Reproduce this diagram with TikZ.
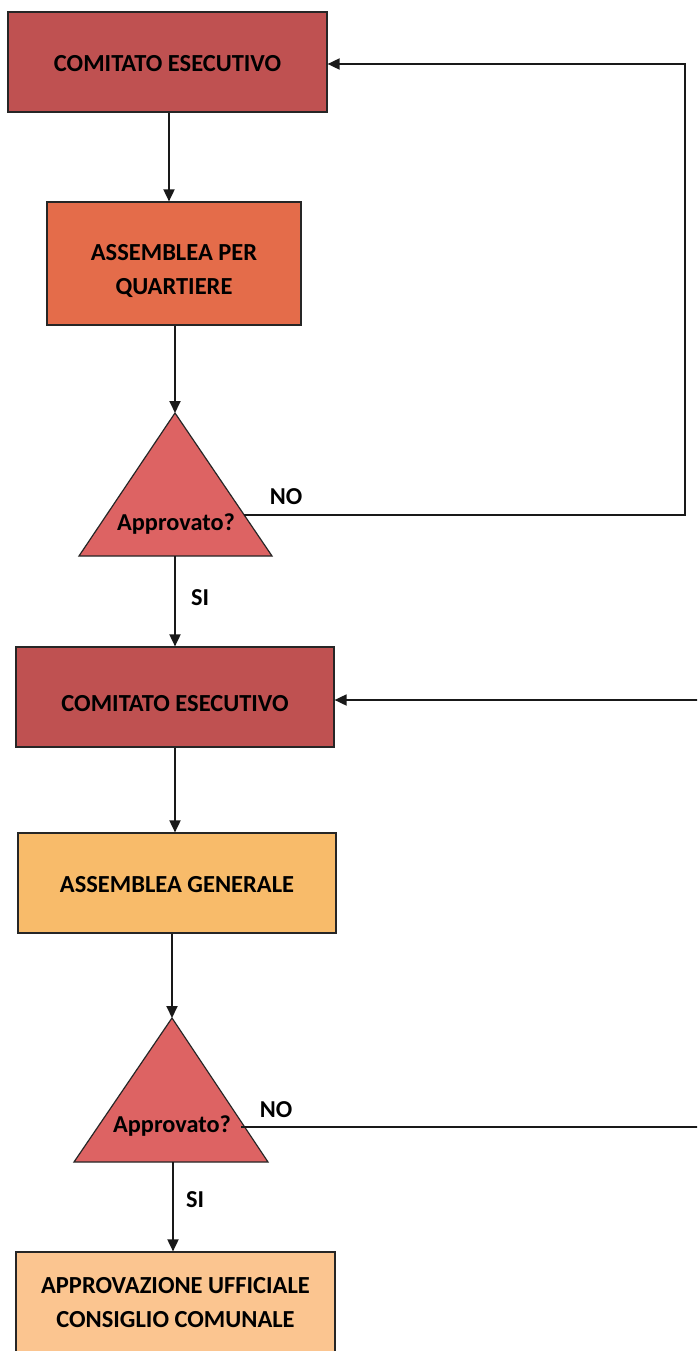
\documentclass[tikz,border=0pt]{standalone}
\usepackage{fontspec}
\setmainfont{Carlito}
\usetikzlibrary{arrows.meta}
\definecolor{redbox}{HTML}{BF5151}
\definecolor{orangebox}{HTML}{E46C4A}
\definecolor{decision}{HTML}{DD6363}
\definecolor{yellowbox}{HTML}{F8BB6A}
\definecolor{peachbox}{HTML}{FBC590}
% box caption, lowered by #1 inside its box
\newcommand\boxcaption[2]{\raisebox{#1}[0pt][0pt]{\begin{tabular}{@{}c@{}}#2\end{tabular}}}
\tikzset{
  stepbox/.style={draw=black!85, line width=1.2pt, inner sep=0pt, align=center,
    font=\bfseries\fontsize{24.5}{34}\selectfont},
  decisiontri/.style={draw=black!85, line width=1.2pt, fill=decision, line join=miter},
  flow/.style={line width=1.8pt, draw=black!90, -{Triangle[length=12pt,width=11pt]}},
  plain/.style={line width=1.8pt, draw=black!90},
  lbl/.style={font=\bfseries\fontsize{24.3}{28}\selectfont, inner sep=0pt},
}
\begin{document}
\begin{tikzpicture}[x=1pt,y=-1pt]
  \useasboundingbox (0,0) rectangle (697,1351);
  \fill[white] (0,0) rectangle (697,1351);
  \clip (0,0) rectangle (697,1351);

  % process boxes
  \node[stepbox, fill=redbox, minimum width=319pt, minimum height=100pt] (ce1) at (167.5,62) {\boxcaption{-9.2pt}{COMITATO ESECUTIVO}};
  \node[stepbox, fill=orangebox, minimum width=254pt, minimum height=123pt] (qa) at (174,263.5) {\boxcaption{-13.7pt}{ASSEMBLEA PER\\QUARTIERE}};
  \node[stepbox, fill=redbox, minimum width=318pt, minimum height=100pt] (ce3) at (175,697) {\boxcaption{-14.2pt}{COMITATO ESECUTIVO}};
  \node[stepbox, fill=yellowbox, minimum width=318pt, minimum height=100pt] (ag) at (177,883) {\boxcaption{-9.2pt}{ASSEMBLEA GENERALE}};
  \node[stepbox, fill=peachbox, minimum width=319pt, minimum height=102pt] (ac) at (175.5,1303) {\boxcaption{-6.7pt}{APPROVAZIONE UFFICIALE\\CONSIGLIO COMUNALE}};

  % decision triangles
  \coordinate (t1a) at (175,413);
  \coordinate (t1l) at (79,556);
  \coordinate (t1r) at (272,556);
  \coordinate (t1b) at (175,556);
  \draw[decisiontri] (t1a) -- (t1r) -- (t1l) -- cycle;
  \node[lbl] (d1) at (176,524) {Approvato?};

  \coordinate (t2a) at (172,1018);
  \coordinate (t2l) at (74,1162);
  \coordinate (t2r) at (268,1162);
  \coordinate (t2b) at (173,1162);
  \draw[decisiontri] (t2a) -- (t2r) -- (t2l) -- cycle;
  \node[lbl] (d2) at (172,1126) {Approvato?};

  % main flow
  \draw[flow] ([xshift=1.5pt]ce1.south) -- ([xshift=1.5pt]ce1.south |- qa.north);
  \draw[flow] (t1a |- qa.south) -- (t1a);
  \draw[flow] (t1b) -- (t1b |- ce3.north);
  \draw[flow] (ce3.south) -- (ce3.south |- ag.north);
  \draw[flow] (t2a |- ag.south) -- (t2a);
  \draw[flow] (t2b) -- (t2b |- ac.north);

  % NO branches
  \coordinate (no1s) at (244,515);
  \coordinate (no1c) at (685,515);
  \coordinate (no1t) at (685,64);
  \draw[flow] (no1s) -- (no1c) -- (no1t) -- (no1t -| ce1.east);
  \coordinate (in3) at (698,700);
  \draw[flow] (in3) -- (in3 -| ce3.east);
  \coordinate (no2s) at (241,1127);
  \coordinate (no2e) at (698,1127);
  \draw[plain] (no2s) -- (no2e);

  % branch labels
  \node[lbl] (n1) at (286,497) {NO};
  \node[lbl] (s1) at (200,598) {SI};
  \node[lbl] (n2) at (276,1110) {NO};
  \node[lbl] (s2) at (195,1200) {SI};
\end{tikzpicture}
\end{document}
